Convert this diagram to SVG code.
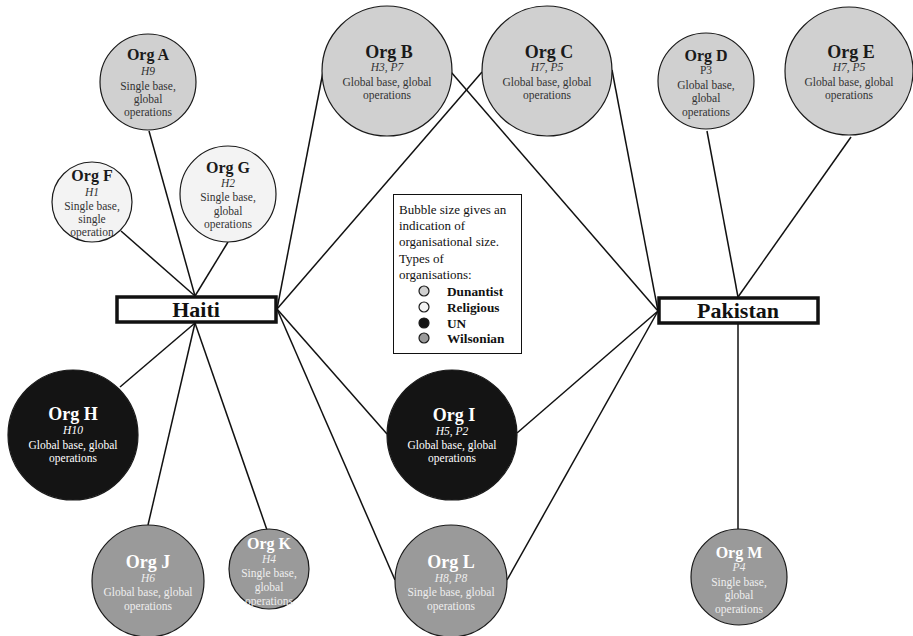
<svg xmlns="http://www.w3.org/2000/svg" width="913" height="636" viewBox="0 0 913 636">
<style>
text{font-family:"Liberation Serif","Times New Roman",serif;text-anchor:middle}
.c{stroke:#1a1a1a;stroke-width:1.2}
.dun{fill:#d0d0d0}.rel{fill:#f3f3f3}.un{fill:#141414}.wil{fill:#9a9a9a}
.t{font-weight:bold;font-size:16px;fill:#1a1a1a}
.tb{font-weight:bold;font-size:18px;fill:#1a1a1a}
.s{font-size:11.5px;fill:#333}
.i{font-style:italic}
.w{fill:#fff}
.wl{fill:#eee}
.hub{fill:#fff;stroke:#111;stroke-width:3.5}
.hubt{font-weight:bold;font-size:22px;fill:#111}
.lg{font-size:13px;fill:#111;text-anchor:start}
.lgb{font-size:13.3px;font-weight:bold;fill:#111;text-anchor:start}
#connectors line{stroke:#111;stroke-width:1.5}
</style>
<rect width="913" height="636" fill="#fff"/>
<g id="connectors">
<line x1="149" y1="131" x2="195" y2="296"/>
<line x1="121" y1="231" x2="195" y2="296"/>
<line x1="228" y1="242" x2="195" y2="296"/>
<line x1="195" y1="323" x2="120" y2="387"/>
<line x1="195" y1="323" x2="148" y2="525"/>
<line x1="195" y1="323" x2="267" y2="530"/>
<line x1="277" y1="309" x2="323" y2="72"/>
<line x1="277" y1="309" x2="482" y2="72"/>
<line x1="277" y1="309" x2="387" y2="434"/>
<line x1="277" y1="309" x2="395" y2="580"/>
<line x1="451" y1="72" x2="658" y2="311"/>
<line x1="612" y1="70" x2="658" y2="311"/>
<line x1="517" y1="433" x2="658" y2="311"/>
<line x1="507" y1="580" x2="658" y2="311"/>
<line x1="707" y1="131" x2="738" y2="297"/>
<line x1="851" y1="137" x2="738" y2="297"/>
<line x1="738" y1="323" x2="738" y2="529"/>
</g>
<g id="orgA"><circle class="c dun" cx="148" cy="82" r="48"/>
<text class="t" x="148" y="60">Org A</text><text class="s i" x="148" y="75">H9</text><text class="s" x="148" y="90">Single base,</text><text class="s" x="148" y="103">global</text><text class="s" x="148" y="116">operations</text></g>
<g id="orgF"><circle class="c rel" cx="92" cy="202" r="40"/>
<text class="t" x="92" y="181">Org F</text><text class="s i" x="92" y="196">H1</text><text class="s" x="92" y="210">Single base,</text><text class="s" x="92" y="223">single</text><text class="s" x="92" y="236">operation</text></g>
<g id="orgG"><circle class="c rel" cx="228" cy="194" r="48"/>
<text class="t" x="228" y="173">Org G</text><text class="s i" x="228" y="187">H2</text><text class="s" x="228" y="201">Single base,</text><text class="s" x="228" y="215">global</text><text class="s" x="228" y="228">operations</text></g>
<g id="orgB"><circle class="c dun" cx="387" cy="71" r="65"/>
<text class="tb" x="389" y="58">Org B</text><text class="s i" x="387" y="71">H3, P7</text><text class="s" x="387" y="86">Global base, global</text><text class="s" x="387" y="99">operations</text></g>
<g id="orgC"><circle class="c dun" cx="547" cy="71" r="65"/>
<text class="tb" x="549" y="58">Org C</text><text class="s i" x="547" y="71">H7, P5</text><text class="s" x="547" y="86">Global base, global</text><text class="s" x="547" y="99">operations</text></g>
<g id="orgD"><circle class="c dun" cx="706" cy="81" r="48"/>
<text class="t" x="706" y="61">Org D</text><text class="s" x="706" y="74">P3</text><text class="s" x="706" y="89">Global base,</text><text class="s" x="706" y="102">global</text><text class="s" x="706" y="116">operations</text></g>
<g id="orgE"><circle class="c dun" cx="849" cy="71" r="64"/>
<text class="tb" x="851" y="58">Org E</text><text class="s i" x="849" y="71">H7, P5</text><text class="s" x="849" y="86">Global base, global</text><text class="s" x="849" y="99">operations</text></g>
<g id="haiti"><rect class="hub" x="117" y="297" width="159" height="25"/><text class="hubt" x="196" y="317">Haiti</text></g>
<g id="pakistan"><rect class="hub" x="659" y="298" width="159" height="25"/><text class="hubt" x="738" y="318">Pakistan</text></g>
<g id="legend"><rect x="393.5" y="194.5" width="128" height="159" fill="#fff" stroke="#111" stroke-width="1"/>
<text class="lg" x="399" y="214">Bubble size gives an</text>
<text class="lg" x="399" y="230">indication of</text>
<text class="lg" x="399" y="246">organisational size.</text>
<text class="lg" x="399" y="263">Types of</text>
<text class="lg" x="399" y="279">organisations:</text>
<circle class="c dun" cx="424" cy="291" r="5"/><text class="lgb" x="447" y="296">Dunantist</text>
<circle class="c rel" cx="424" cy="307" r="5"/><text class="lgb" x="447" y="312">Religious</text>
<circle class="c un" cx="424" cy="323" r="5"/><text class="lgb" x="447" y="328">UN</text>
<circle class="c wil" cx="424" cy="338" r="5"/><text class="lgb" x="447" y="343">Wilsonian</text></g>
<g id="orgH"><circle class="c un" cx="73" cy="435" r="65"/>
<text class="tb w" x="73" y="420">Org H</text><text class="s i w" x="73" y="434">H10</text><text class="s w" x="73" y="449">Global base, global</text><text class="s w" x="73" y="462">operations</text></g>
<g id="orgI"><circle class="c un" cx="452" cy="435" r="65"/>
<text class="tb w" x="454" y="421">Org I</text><text class="s i w" x="452" y="435">H5, P2</text><text class="s w" x="452" y="449">Global base, global</text><text class="s w" x="452" y="462">operations</text></g>
<g id="orgJ"><circle class="c wil" cx="148" cy="581" r="56"/>
<text class="tb w" x="148" y="568">Org J</text><text class="s i wl" x="148" y="582">H6</text><text class="s wl" x="148" y="596">Global base, global</text><text class="s wl" x="148" y="610">operations</text></g>
<g id="orgK"><circle class="c wil" cx="269" cy="569" r="40"/>
<text class="t w" x="269" y="549">Org K</text><text class="s i wl" x="269" y="563">H4</text><text class="s wl" x="269" y="577">Single base,</text><text class="s wl" x="269" y="591">global</text><text class="s wl" x="269" y="605">operations</text></g>
<g id="orgL"><circle class="c wil" cx="451" cy="581" r="56"/>
<text class="tb w" x="451" y="568">Org L</text><text class="s i wl" x="451" y="582">H8, P8</text><text class="s wl" x="451" y="596">Single base, global</text><text class="s wl" x="451" y="610">operations</text></g>
<g id="orgM"><circle class="c wil" cx="739" cy="577" r="48"/>
<text class="t w" x="739" y="558">Org M</text><text class="s i wl" x="739" y="571">P4</text><text class="s wl" x="739" y="586">Single base,</text><text class="s wl" x="739" y="599">global</text><text class="s wl" x="739" y="613">operations</text></g>
</svg>
